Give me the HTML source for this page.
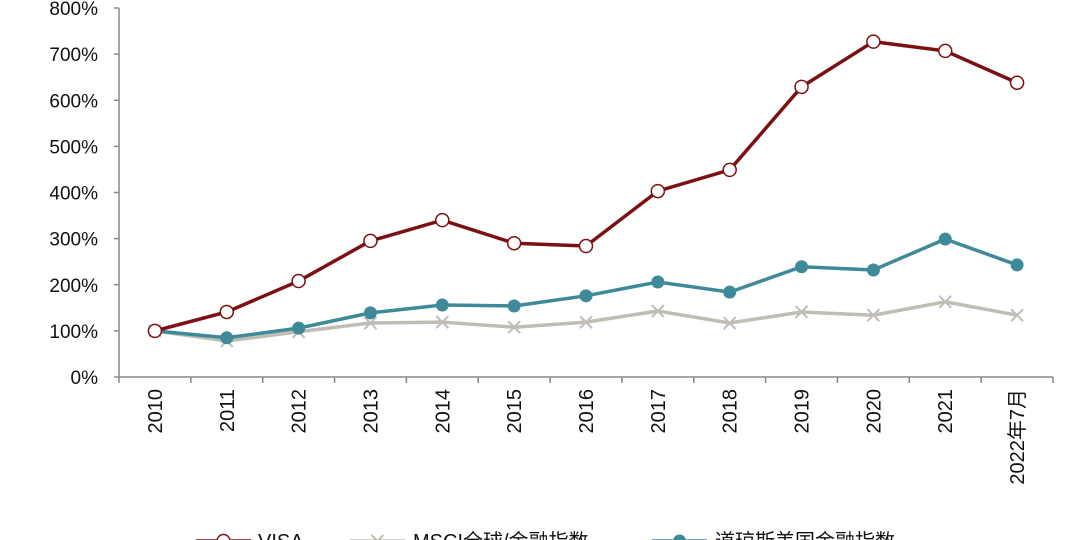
<!DOCTYPE html>
<html><head><meta charset="utf-8"><style>
html,body{margin:0;padding:0;background:#fff;}
svg{display:block;font-family:"Liberation Sans","Noto Sans CJK SC",sans-serif;}
</style></head><body>
<svg id="chart" width="1080" height="540" viewBox="0 0 1080 540"></svg>
<script>
const categories=["2010","2011","2012","2013","2014","2015","2016","2017","2018","2019","2020","2021","2022年7月"];
const visaValues=[100,141,208,295,340,290,284,403,449,629,727,707,638];
const msciValues=[100,78,98,117,119,108,119,143,117,141,134,163,134];
const dowValues=[100,85,106,139,156,154,176,206,184,239,232,299,243];
const yTicks=[0,100,200,300,400,500,600,700,800];
const seriesNames=["VISA","MSCI全球/金融指数","道琼斯美国金融指数"];

const NS="http://www.w3.org/2000/svg";
const svg=document.getElementById('chart');
const x0=119,x1=1053,yBase=377,yTop=8;
function yScale(v){return yBase-(v/800)*(yBase-yTop);}
const step=(x1-x0)/categories.length;
function xScale(i){return x0+step*(i+0.5);}
function mk(tag,attrs,parent){const e=document.createElementNS(NS,tag);for(const k in attrs)e.setAttribute(k,attrs[k]);(parent||svg).appendChild(e);return e;}

const ax=mk('line',{x1:x0,y1:yTop,x2:x0,y2:yBase,stroke:'#888','stroke-width':1.5});


const bx=mk('line',{x1:x0,y1:yBase,x2:x1,y2:yBase,stroke:'#888','stroke-width':1.5});


yTicks.forEach(t=>{
  const y=yScale(t);
  const tk=mk('line',{x1:x0-5,y1:y,x2:x0,y2:y,stroke:'#888','stroke-width':1.5});
  
  
  const tx=mk('text',{x:98,y:y+7,'text-anchor':'end','font-size':19,fill:'#111'});
  tx.textContent=t+'%';
  
  
});
for(let i=0;i<=categories.length;i++){
  const x=x0+step*i;
  const tk=mk('line',{x1:x,y1:yBase,x2:x,y2:yBase+6,stroke:'#888','stroke-width':1.5});
  
  
}
categories.forEach((c,i)=>{
  const x=xScale(i);
  const tx=mk('text',{x:0,y:0,'text-anchor':'end','font-size':20,fill:'#111',transform:`translate(${x+7},389) rotate(-90)`});
  tx.textContent=c;
  
  
});

function pts(vals){return vals.map((v,i)=>xScale(i)+','+yScale(v)).join(' ');}
const ml=mk('polyline',{points:pts(msciValues),fill:'none',stroke:'#bfbdb4','stroke-width':3.5});


msciValues.forEach((v,i)=>{
  const x=xScale(i),y=yScale(v),s=6;
  const p=mk('path',{d:`M${x-s},${y-s}L${x+s},${y+s}M${x-s},${y+s}L${x+s},${y-s}`,stroke:'#bfbdb4','stroke-width':2});
  
  
});
const dl=mk('polyline',{points:pts(dowValues),fill:'none',stroke:'#3e8a98','stroke-width':3.5});


dowValues.forEach((v,i)=>{
  const c=mk('circle',{cx:xScale(i),cy:yScale(v),r:6.5,fill:'#3e8a98'});
  
  
});
const vl=mk('polyline',{points:pts(visaValues),fill:'none',stroke:'#7b1113','stroke-width':3.5});


visaValues.forEach((v,i)=>{
  const c=mk('circle',{cx:xScale(i),cy:yScale(v),r:6.5,fill:'#fff',stroke:'#7b1113','stroke-width':1.5});
  
  
});

const lg=[{x:196,tx:258,color:'#7b1113',m:'open'},{x:350,tx:413,color:'#bfbdb4',m:'x'},{x:652,tx:715,color:'#3e8a98',m:'dot'}];
lg.forEach((l,i)=>{
  const g=mk('g',{});
  
  
  const ly=541;
  mk('line',{x1:l.x,y1:ly,x2:l.x+55,y2:ly,stroke:l.color,'stroke-width':3.5},g);
  const cx=l.x+27.5;
  if(l.m==='open')mk('circle',{cx:cx,cy:ly,r:6.5,fill:'#fff',stroke:l.color,'stroke-width':1.5},g);
  else if(l.m==='dot')mk('circle',{cx:cx,cy:ly,r:6.5,fill:l.color},g);
  else mk('path',{d:`M${cx-6},${ly-6}L${cx+6},${ly+6}M${cx-6},${ly+6}L${cx+6},${ly-6}`,stroke:l.color,'stroke-width':2},g);
  const t=mk('text',{x:l.tx,y:548,'font-size':20,fill:'#111'},g);
  t.textContent=seriesNames[i];
});
</script>
</body></html>
